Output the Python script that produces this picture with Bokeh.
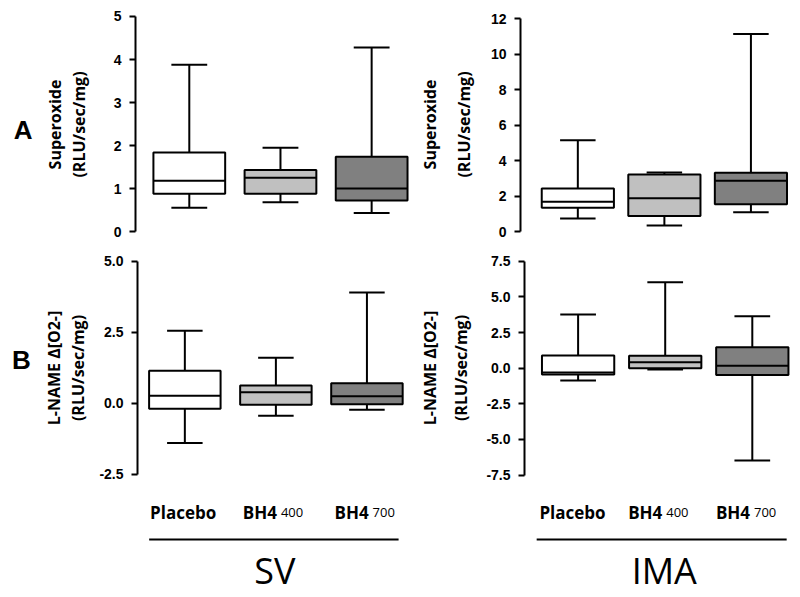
from bokeh.plotting import figure
from bokeh.models import (FactorRange, Range1d, FixedTicker, PrintfTickFormatter, ColumnDataSource,
                          Spacer, LinearAxis)
from bokeh.transform import dodge
from bokeh.layouts import column, row
from bokeh.core.properties import value
from bokeh.embed import file_html
from bokeh.resources import INLINE

# ---------------- data ----------------
categories = ["Placebo", "BH4 400", "BH4 700"]
cat_main = ["Placebo", "BH4", "BH4"]
cat_sub = ["", "400", "700"]
fills = ["#ffffff", "#c0c0c0", "#808080"]

# SV superoxide (RLU/sec/mg)
sv_sup_lo = [0.55, 0.68, 0.43]
sv_sup_q1 = [0.88, 0.88, 0.72]
sv_sup_med = [1.18, 1.25, 1.00]
sv_sup_q3 = [1.84, 1.43, 1.74]
sv_sup_hi = [3.88, 1.95, 4.28]

# IMA superoxide
ima_sup_lo = [0.73, 0.34, 1.09]
ima_sup_q1 = [1.34, 0.88, 1.54]
ima_sup_med = [1.68, 1.88, 2.86]
ima_sup_q3 = [2.43, 3.22, 3.31]
ima_sup_hi = [5.15, 3.33, 11.15]

# SV L-NAME delta
sv_ln_lo = [-1.40, -0.44, -0.23]
sv_ln_q1 = [-0.19, -0.05, -0.04]
sv_ln_med = [0.26, 0.39, 0.25]
sv_ln_q3 = [1.14, 0.62, 0.70]
sv_ln_hi = [2.55, 1.60, 3.90]

# IMA L-NAME delta
ima_ln_lo = [-0.86, -0.09, -6.48]
ima_ln_q1 = [-0.44, 0.00, -0.47]
ima_ln_med = [-0.30, 0.42, 0.17]
ima_ln_q3 = [0.89, 0.87, 1.47]
ima_ln_hi = [3.77, 6.04, 3.65]

sup_ticks_sv = [0, 1, 2, 3, 4, 5]
sup_ticks_ima = [0, 2, 4, 6, 8, 10, 12]
ln_ticks_sv = [-2.5, 0.0, 2.5, 5.0]
ln_ticks_ima = [-7.5, -5.0, -2.5, 0.0, 2.5, 5.0, 7.5]

sup_label = ["Superoxide", "(RLU/sec/mg)"]
ln_label = ["L-NAME \u0394[O2-]", "(RLU/sec/mg)"]
row_letters = ["A", "B"]
tissues = ["SV", "IMA"]

LW = 2


def style_label(ax):
    ax.axis_label_text_font = "Open Sans"
    ax.axis_label_text_font_style = "bold"
    ax.axis_label_text_font_size = "16px"
    ax.axis_label_text_color = "black"


def panel(width, height, bl, br_, bt, bb, y_start, y_end, ticks, fmt, ylabel,
          pad, shift, box_w, cap_w, lo, q1, med, q3, hi, lab_standoff, split=None):
    xr = FactorRange(*categories, range_padding=2 * pad / 3.0, range_padding_units="percent")
    p = figure(width=width, height=height, x_range=xr, y_range=Range1d(y_start, y_end), title=None,
               output_backend="svg", toolbar_location=None, x_axis_location=None,
               min_border_left=bl, min_border_right=br_, min_border_top=bt, min_border_bottom=bb)
    p.outline_line_color = None
    p.grid.visible = False
    p.background_fill_color = "white"
    p.border_fill_color = "white"

    src = ColumnDataSource(dict(cat=categories, lo=lo, q1=q1, med=med, q3=q3, hi=hi, fill=fills))
    xc = dodge("cat", shift, range=xr)
    p.segment(x0=xc, x1=xc, y0="lo", y1="hi", line_color="black", line_width=LW, source=src)
    p.vbar(x=xc, bottom="q1", top="q3", width=box_w, fill_color="fill",
           line_color="black", line_width=LW, source=src)
    p.segment(x0=dodge("cat", shift - box_w / 2, range=xr), x1=dodge("cat", shift + box_w / 2, range=xr),
              y0="med", y1="med", line_color="black", line_width=LW, source=src)
    for f in ("lo", "hi"):
        p.segment(x0=dodge("cat", shift - cap_w / 2, range=xr), x1=dodge("cat", shift + cap_w / 2, range=xr),
                  y0=f, y1=f, line_color="black", line_width=LW, source=src)

    ax = p.yaxis[0]
    ax.ticker = FixedTicker(ticks=ticks)
    ax.formatter = PrintfTickFormatter(format=fmt)
    ax.bounds = (ticks[0], ticks[-1])
    ax.axis_line_width = 2
    ax.axis_line_color = "black"
    ax.major_tick_line_width = 2
    ax.major_tick_line_color = "black"
    ax.major_tick_out = 6
    ax.major_tick_in = 0
    ax.minor_tick_line_color = None
    ax.major_label_standoff = 8
    ax.major_label_text_font = "Liberation Sans"
    ax.major_label_text_font_style = "bold"
    ax.major_label_text_font_size = "14px"
    ax.major_label_text_color = "black"
    style_label(ax)
    ax.axis_label_standoff = lab_standoff
    if split is None:
        ax.axis_label = "\n".join(ylabel)
        ax.axis_label_text_line_height = 1.1
    else:
        # second line on the main axis, first line on an outer, tick-less axis
        ax.axis_label = ylabel[1]
        ax2 = LinearAxis(ticker=FixedTicker(ticks=[]), axis_line_color=None,
                         major_tick_out=0, major_tick_in=0, minor_tick_out=0, minor_tick_in=0,
                         major_label_standoff=0, axis_label=ylabel[0], axis_label_standoff=split)
        style_label(ax2)
        p.add_layout(ax2, "left")
    return p


def letter_fig(width, height, letter, x, y):
    p = figure(width=width, height=height, x_range=Range1d(0, width), y_range=Range1d(0, height),
               title=None, output_backend="svg", toolbar_location=None,
               x_axis_location=None, y_axis_location=None,
               min_border_left=0, min_border_right=0, min_border_top=0, min_border_bottom=0)
    p.outline_line_color = None
    p.grid.visible = False
    p.text(x=[x], y=[y], text=[letter], text_align="center", text_baseline="alphabetic",
           text_font=value("Liberation Sans"), text_font_style="bold", text_font_size="26px",
           text_color="black")
    return p


def strip(width, height, bl, br_, xr, shift, lab_shift, line_a, line_b, group):
    p = figure(width=width, height=height, x_range=xr, y_range=Range1d(0, height), title=None,
               output_backend="svg", toolbar_location=None, x_axis_location=None, y_axis_location=None,
               min_border_left=bl, min_border_right=br_, min_border_top=0, min_border_bottom=0)
    p.outline_line_color = None
    p.grid.visible = False
    p.border_fill_color = "white"
    src = ColumnDataSource(dict(cat=categories, main=cat_main, sub=cat_sub,
                                moff=[lab_shift + 0, lab_shift - 15, lab_shift - 15],
                                soff=[lab_shift + 0, lab_shift + 6, lab_shift + 6]))
    xc = dodge("cat", shift, range=xr)
    p.text(x=xc, y=85, text="main", x_offset="moff", source=src, text_align="center",
           text_baseline="alphabetic", text_font=value("Open Sans"), text_font_style="bold",
           text_font_size="17px", text_color="black")
    p.text(x=xc, y=85, text="sub", x_offset="soff", source=src, text_align="left",
           text_baseline="alphabetic", text_font=value("Open Sans"), text_font_style="normal",
           text_font_size="13px", text_color="black")
    lsrc = ColumnDataSource(dict(a=[categories[0]], b=[categories[-1]], mid=[categories[1]], g=[group]))
    p.segment(x0=dodge("a", shift + line_a, range=xr), x1=dodge("b", shift + line_b, range=xr),
              y0=58, y1=58, line_color="black", line_width=2, source=lsrc)
    p.text(x=dodge("mid", shift, range=xr), y=27, text="g", source=lsrc, text_align="center",
           text_baseline="alphabetic", text_font=value("Open Sans"), text_font_size="36px",
           text_color="black")
    return p


LETTER_W = 40
W_L, W_R = 375, 385
H_T, H_B, H_S = 245, 245, 107

la = letter_fig(LETTER_W, H_T, row_letters[0], 22.7, 117)
lb = letter_fig(LETTER_W, H_B, row_letters[1], 21, 131)

tl = panel(W_L, H_T, 94, 0, 12, 9, -0.116, 5.093, sup_ticks_sv, "%d", sup_label,
           0.0355, 0.0545, 0.787, 0.393, sv_sup_lo, sv_sup_q1, sv_sup_med, sv_sup_q3, sv_sup_hi, 21)
tr = panel(W_R, H_T, 102, 8, 12, 9, -0.282, 12.36, sup_ticks_ima, "%d", sup_label,
           0.0714, 0.091, 0.834, 0.41, ima_sup_lo, ima_sup_q1, ima_sup_med, ima_sup_q3, ima_sup_hi,
           13, split=9)
bl = panel(W_L, H_B, 95, 0, 10, 10, -2.72, 5.20, ln_ticks_sv, "%.1f", ln_label,
           0.0267, -0.0067, 0.785, 0.39, sv_ln_lo, sv_ln_q1, sv_ln_med, sv_ln_q3, sv_ln_hi, 7)
br = panel(W_R, H_B, 107, 8, 10, 10, -7.88, 7.91, ln_ticks_ima, "%.1f", ln_label,
           0.0385, 0.077, 0.83, 0.41, ima_ln_lo, ima_ln_q1, ima_ln_med, ima_ln_q3, ima_ln_hi,
           11, split=7)

sl = strip(W_L, H_S, 95, 0, bl.x_range, -0.0067, 0, -0.371, 0.349, tissues[0])
sr = strip(W_R, H_S, 107, 8, br.x_range, 0.077, -4, -0.454, 0.395, tissues[1])

layout = column(row(la, tl, tr), row(lb, bl, br), row(Spacer(width=LETTER_W, height=H_S), sl, sr))

with open("out.html", "w") as fh:
    fh.write(file_html(layout, INLINE))
